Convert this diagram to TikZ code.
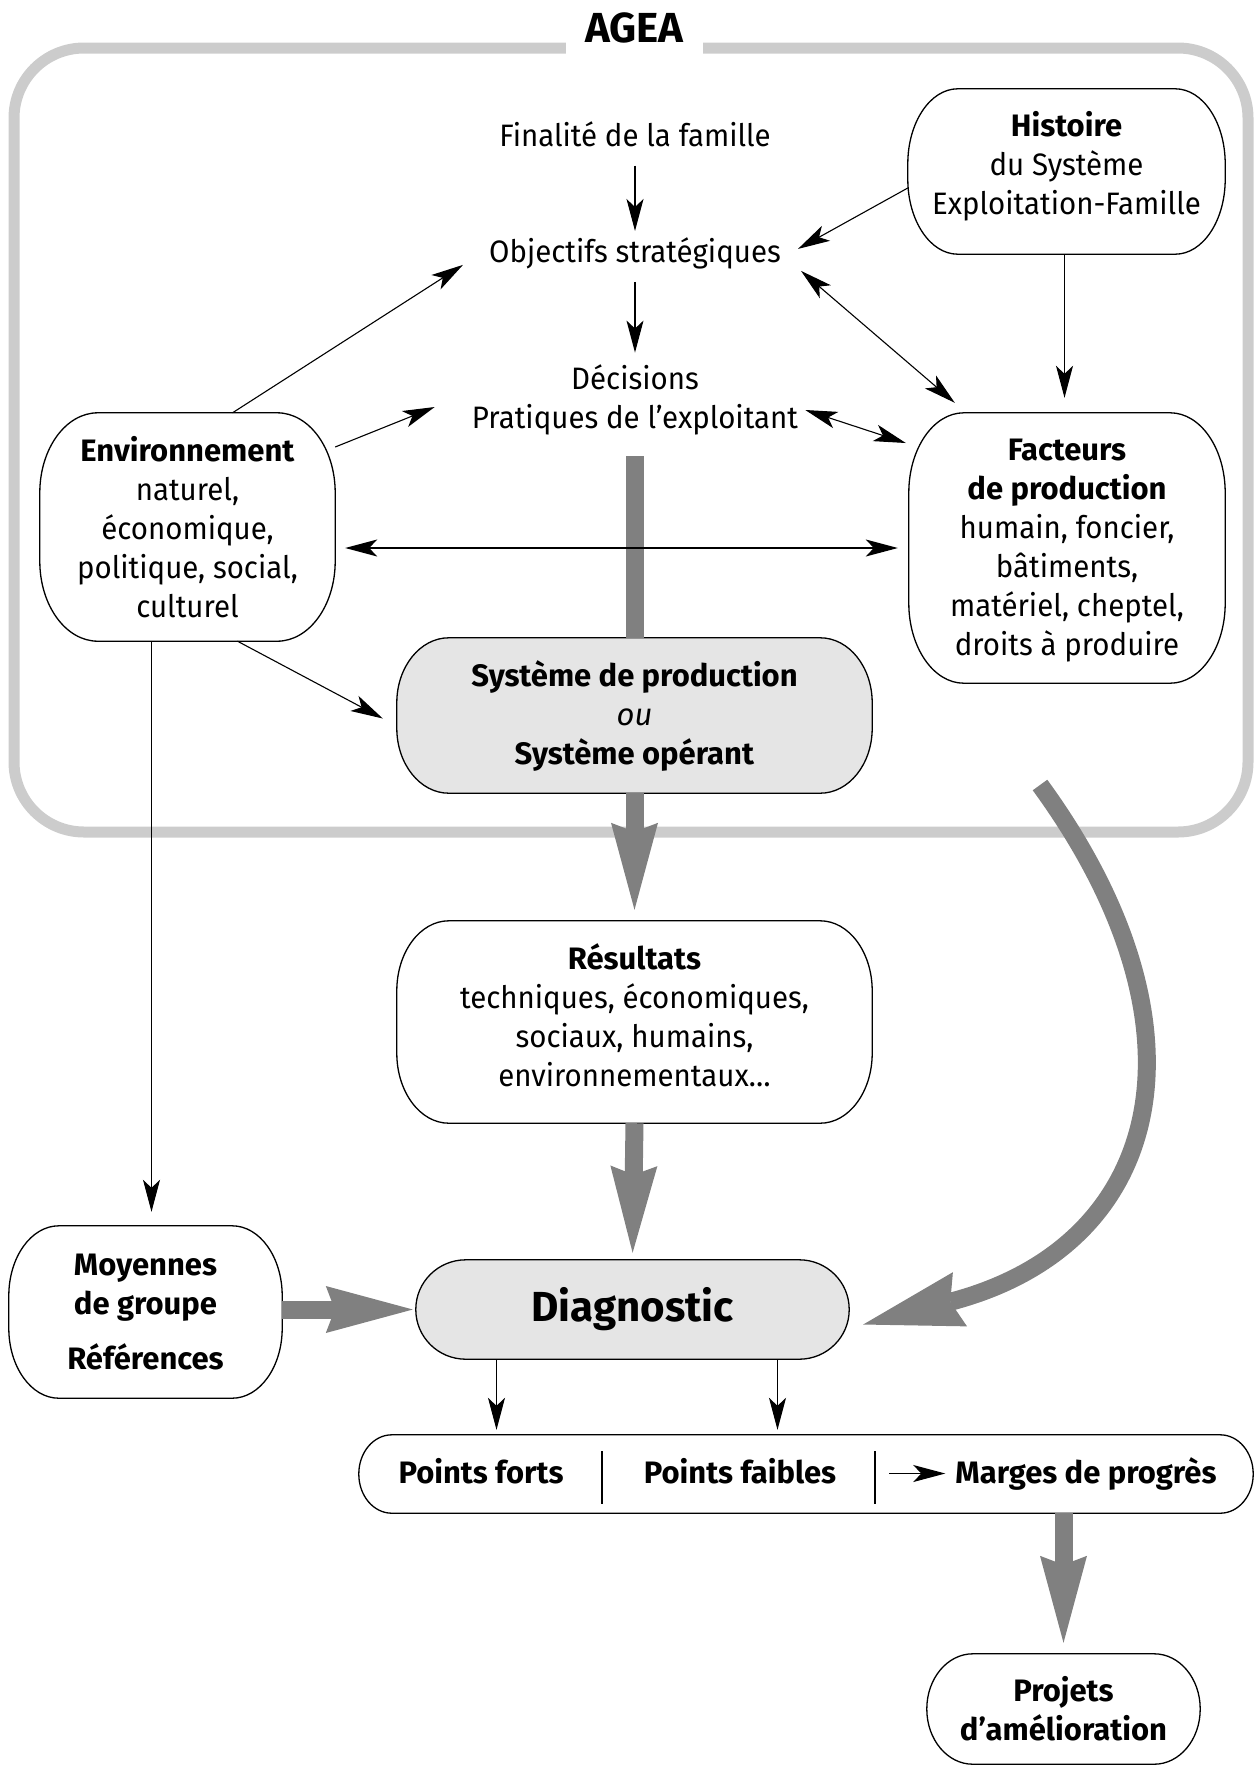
\documentclass[tikz,border=0pt]{standalone}
\usepackage{fontspec}
\setmainfont{Fira Sans}[UprightFeatures={FakeStretch=0.95}]
\usetikzlibrary{arrows.meta,calc}

\definecolor{framegray}{gray}{0.8}
\definecolor{flowgray}{gray}{0.5}
\definecolor{boxgray}{gray}{0.9}

\pgfdeclarelayer{framelayer}
\pgfdeclarelayer{boxlayer}
\pgfsetlayers{framelayer,boxlayer,main}

% outline of a box with elliptical corners: [fill]{node}{x radius}{y radius}
\newcommand\capsule[4][white]{%
  \begin{pgfonlayer}{boxlayer}
  \path[draw=black, line width=1.3pt, fill=#1]
    ($(#2.north west)+(#3,0)$) -- ($(#2.north east)+(-#3,0)$)
    .. controls ($(#2.north east)+(-0.448*#3,0)$) and ($(#2.north east)+(0,0.448*#4)$) .. ($(#2.north east)+(0,#4)$)
    -- ($(#2.south east)+(0,-#4)$)
    .. controls ($(#2.south east)+(0,-0.448*#4)$) and ($(#2.south east)+(-0.448*#3,0)$) .. ($(#2.south east)+(-#3,0)$)
    -- ($(#2.south west)+(#3,0)$)
    .. controls ($(#2.south west)+(0.448*#3,0)$) and ($(#2.south west)+(0,-0.448*#4)$) .. ($(#2.south west)+(0,-#4)$)
    -- ($(#2.north west)+(0,#4)$)
    .. controls ($(#2.north west)+(0,0.448*#4)$) and ($(#2.north west)+(0.448*#3,0)$) .. cycle;
  \end{pgfonlayer}}

\begin{document}
\begin{tikzpicture}[x=1pt, y=-1pt,
  every node/.style={font=\fontsize{31}{39}\selectfont, align=center, inner sep=0pt},
  bigtext/.style={font=\fontsize{42}{50}\selectfont\bfseries},
  thin/.style={line width=1.1pt, -{Stealth[length=32pt,width=17pt,inset=8pt]}},
  thinboth/.style={line width=1.1pt, {Stealth[length=32pt,width=17pt,inset=8pt]}-{Stealth[length=32pt,width=17pt,inset=8pt]}},
  flowline/.style={draw=flowgray, line width=18pt},
  flow/.style={flowline, -{Stealth[length=87pt,width=47pt,inset=9pt,line width=0pt]}},
  bentflow/.style={flowline, -{Stealth[length=100pt,width=56pt,inset=10pt,line width=0pt]}},
]
\useasboundingbox (0,0) rectangle (1258,1767);

% frame around the AGEA part
\begin{pgfonlayer}{framelayer}
  \draw[framegray, line width=11pt, rounded corners=70pt] (14,48) rectangle (1248,832);
\end{pgfonlayer}
\node[bigtext, fill=white, minimum width=137pt, minimum height=60pt] (agea) at (634.5,28) {AGEA};

% free text
\node[anchor=base] (fin) at (635,146) {Finalité de la famille};
\node[anchor=base] (obj) at (635,262) {Objectifs stratégiques};
\node (dec) at (635,400) {Décisions\\Pratiques de l’exploitant};

% boxes
\node[minimum width=317pt, minimum height=165pt, text depth=18pt] (hist) at (1066.5,171.5)
  {\textbf{Histoire}\\du Système\\Exploitation-Famille};
\node[minimum width=295pt, minimum height=228pt] (env) at (187.5,527)
  {\textbf{Environnement}\\naturel,\\économique,\\politique, social,\\culturel};
\node[minimum width=316pt, minimum height=270pt, text depth=1pt] (fact) at (1067,548)
  {\textbf{Facteurs}\\\textbf{de production}\\humain, foncier,\\bâtiments,\\matériel, cheptel,\\droits à produire};
\node[minimum width=475pt, minimum height=155pt] (sys) at (634.5,715.5)
  {\textbf{Système de production}\\\textit{ou}\\\textbf{Système opérant}};
\node[minimum width=475pt, minimum height=202pt, text depth=14pt] (res) at (634.5,1022)
  {\textbf{Résultats}\\techniques, économiques,\\sociaux, humains,\\environnementaux…};
\node[minimum width=273pt, minimum height=172pt] (moy) at (145.5,1312)
  {\textbf{Moyennes}\\\textbf{de groupe}\\[16pt]\textbf{Références}};
\node[bigtext, minimum width=433pt, minimum height=99pt] (diag) at (632.5,1309.5) {Diagnostic};
\node[minimum width=894pt, minimum height=78pt] (pts) at (806,1474) {};
\node[minimum width=273pt, minimum height=110pt] (proj) at (1063.5,1709)
  {\textbf{Projets}\\\textbf{d’amélioration}};

% contents of the strip
\node[anchor=base, font=\fontsize{31}{39}\selectfont\bfseries] (forts) at (481,1483) {Points forts};
\node[anchor=base, font=\fontsize{31}{39}\selectfont\bfseries] (faibles) at (740,1483) {Points faibles};
\node[anchor=base, font=\fontsize{31}{39}\selectfont\bfseries] (marg) at (1086,1483) {Marges de progrès};
\draw[line width=1.1pt] ($(pts.center)+(-204,-23)$) -- ($(pts.center)+(-204,30)$);
\draw[line width=1.1pt] ($(pts.center)+(69,-23)$) -- ($(pts.center)+(69,30)$);
\draw[thin] ($(marg.west)+(-66,0)$) -- ($(marg.west)+(-10,0)$);

% box outlines
\capsule{hist}{50}{75}
\capsule{env}{58}{80}
\capsule{fact}{55}{80}
\capsule[boxgray]{sys}{52}{65}
\capsule{res}{52}{70}
\capsule{moy}{50}{70}
\capsule[boxgray]{diag}{50}{49.5}
\capsule{pts}{33}{39}
\capsule{proj}{46}{55}

% wide grey flows
\draw[flowline, shorten <=21pt] (sys.north |- dec.south) -- (sys.north);
\draw[flow, shorten >=11pt] (sys.south) -- (res.north);
\draw[flow, shorten >=7pt] (res.south) -- (diag.north);
\draw[flow, shorten >=3pt] (moy.east |- diag.west) -- (diag.west);
\draw[flow, shorten >=11pt] (pts.south -| proj.north) -- (proj.north);
\coordinate (loopstart) at (1040,785);
\draw[bentflow] (loopstart) .. controls (1215,1025) and (1168,1245) .. ([xshift=14pt,yshift=-15pt]diag.east);

% thin connectors
\draw[thin, shorten <=19pt, shorten >=6pt] (fin.south) -- (obj.north);
\draw[thin, shorten <=13pt, shorten >=12pt] (obj.south) -- (obj.south |- dec.north);
\draw[thin] ([yshift=-16.5pt]hist.west) -- ([xshift=17pt,yshift=4pt]obj.east);
\draw[thin, shorten >=15pt] ([xshift=-2pt]hist.south) -- ([xshift=-2pt]hist.south |- fact.north);
\draw[thin] ([xshift=45pt]env.north) -- ([xshift=-26pt,yshift=-12pt]obj.west);
\draw[thin] ([yshift=80pt]env.east) -- ([xshift=-37pt,yshift=-7pt]dec.west);
\draw[thinboth] ([xshift=20pt,yshift=-18pt]obj.east) -- ([xshift=46pt,yshift=10pt]fact.north west);
\draw[thinboth] ([xshift=7pt,yshift=-10pt]dec.east) -- ([xshift=-3pt,yshift=105pt]fact.west);
\draw[thinboth] ($(env.east |- fact.west)+(10,0)$) -- ($(fact.west)+(-11,0)$);
\draw[thin] ([xshift=50pt]env.south) -- ([xshift=-14pt,yshift=-3pt]sys.west);
\coordinate (envfoot) at ($(env.south)+(-36,0)$);
\draw[thin, shorten >=14pt] (envfoot) -- (envfoot |- moy.north);
\coordinate (diagleft) at ($(diag.south)+(-136,0)$);
\coordinate (diagright) at ($(diag.south)+(145,0)$);
\draw[thin, shorten >=5pt] (diagleft) -- (diagleft |- pts.north);
\draw[thin, shorten >=5pt] (diagright) -- (diagright |- pts.north);
\end{tikzpicture}
\end{document}
